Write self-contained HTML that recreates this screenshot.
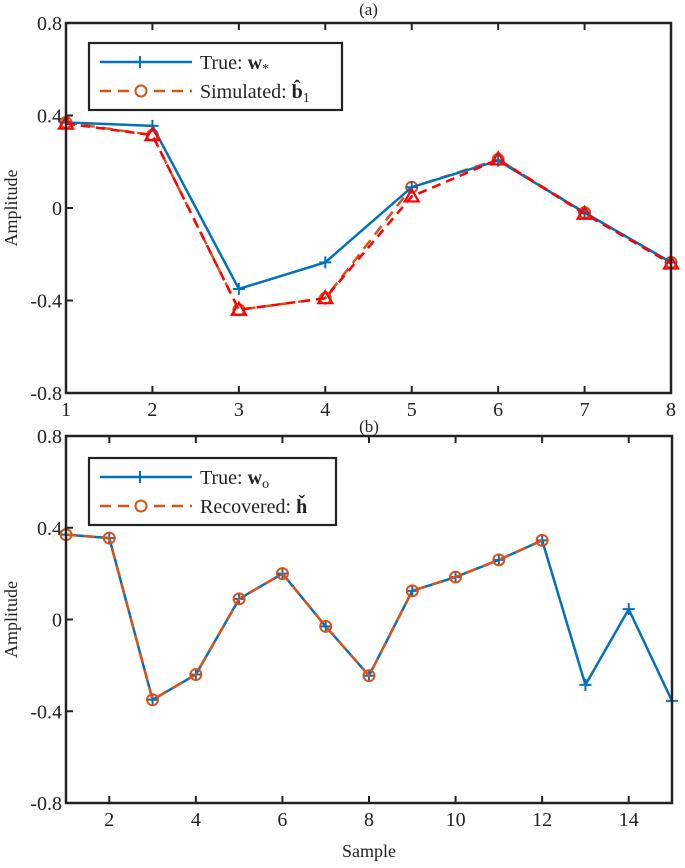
<!DOCTYPE html>
<html><head><meta charset="utf-8"><style>
body{margin:0;background:#fff;}
svg text{font-family:"Liberation Serif",serif;fill:#222;}
</style></head><body>
<svg id="fig" width="685" height="863" xmlns="http://www.w3.org/2000/svg"></svg>
<script>
const topX = [1,2,3,4,5,6,7,8];
const topTrue = [0.37,0.355,-0.35,-0.235,0.09,0.205,-0.02,-0.235];
const topSimOrange = [0.37,0.315,-0.44,-0.39,0.09,0.21,-0.02,-0.235];
const topSimRed = [0.365,0.315,-0.44,-0.39,0.05,0.21,-0.025,-0.24];
const topXTicks = [1,2,3,4,5,6,7,8];
const yTicks = [0.8,0.4,0,-0.4,-0.8];
const yTickLabels = ["0.8","0.4","0","-0.4","-0.8"];
const botX = [1,2,3,4,5,6,7,8,9,10,11,12,13,14,15];
const botTrue = [0.37,0.355,-0.35,-0.24,0.09,0.2,-0.03,-0.245,0.125,0.185,0.26,0.345,-0.285,0.045,-0.355];
const botRecX = [1,2,3,4,5,6,7,8,9,10,11,12];
const botRec = [0.37,0.355,-0.35,-0.24,0.09,0.2,-0.03,-0.245,0.125,0.185,0.26,0.345];
const botXTicks = [2,4,6,8,10,12,14];

const NS="http://www.w3.org/2000/svg";
const svg=document.getElementById('fig');
function mk(tag,attrs,parent){const e=document.createElementNS(NS,tag);for(const k in attrs)e.setAttribute(k,attrs[k]);(parent||svg).appendChild(e);return e;}
const BLUE="#0072BD",ORANGE="#D95319",RED="#FF0000";

function panel(name,L,R,T,B,xmin,xmax,xticks,title,titleY){
  const g=mk('g',{});
  
  
  const sx=v=>L+(v-xmin)/(xmax-xmin)*(R-L);
  const sy=v=>T+(0.8-v)/1.6*(B-T);
  for(let i=0;i<yTicks.length;i++){
    const y=sy(yTicks[i]);
    const t=mk('line',{x1:L,x2:L+7,y1:y,y2:y,stroke:'#222','stroke-width':2},g);
    
    
    const tx=mk('text',{x:L-4,y:y+7,'text-anchor':'end','font-size':20},g);
    tx.textContent=yTickLabels[i];
    
    
  }
  for(const v of xticks){
    const x=sx(v);
    const t1=mk('line',{x1:x,x2:x,y1:B,y2:B-7,stroke:'#222','stroke-width':2},g);
    
    
    const t2=mk('line',{x1:x,x2:x,y1:T,y2:T+7,stroke:'#222','stroke-width':2},g);
    
    
    const tx=mk('text',{x:x,y:B+23,'text-anchor':'middle','font-size':20},g);
    tx.textContent=String(v);
    
    
  }
  const ttl=mk('text',{x:(L+R)/2,y:titleY,'text-anchor':'middle','font-size':17},g);
  ttl.textContent=title;
  
  
  const yl=mk('text',{x:0,y:0,'text-anchor':'middle','font-size':18,transform:`translate(17,${(T+B)/2}) rotate(-90)`},g);
  yl.textContent='Amplitude';
  
  
  return {g,sx,sy,frame:()=>{const f=mk('rect',{x:L,y:T,width:R-L,height:B-T,fill:'none',stroke:'#222','stroke-width':2.5},g);}};
}

function series(p,xs,ys,color,dash,marker,name){
  const pts=xs.map((x,i)=>p.sx(x)+','+p.sy(ys[i])).join(' ');
  const pl=mk('polyline',{points:pts,fill:'none',stroke:color,'stroke-width':2.5,'stroke-dasharray':dash||'none'},p.g);
  
  
  xs.forEach((x,i)=>{
    const cx=p.sx(x),cy=p.sy(ys[i]);
    let m;
    if(marker==='plus') m=mk('path',{d:`M${cx-6},${cy}H${cx+6}M${cx},${cy-6}V${cy+6}`,stroke:color,'stroke-width':2,fill:'none'},p.g);
    else if(marker==='circle') m=mk('circle',{cx,cy,r:5.5,stroke:color,'stroke-width':2,fill:'none'},p.g);
    else m=mk('path',{d:`M${cx},${cy-7}L${cx+7},${cy+5}L${cx-7},${cy+5}Z`,stroke:color,'stroke-width':2.2,fill:'none'},p.g);
    
    
  });
}

function legend(p,x,y,w,h,l1,l2){
  const g=mk('g',{},p.g);
  
  
  mk('rect',{x,y,width:w,height:h,fill:'#fff',stroke:'#222','stroke-width':2.2},g);
  const y1=y+19,y2=y+48;
  mk('line',{x1:x+11,x2:x+103,y1:y1,y2:y1,stroke:BLUE,'stroke-width':2.5},g);
  mk('path',{d:`M${x+51},${y1-6}V${y1+6}M${x+45},${y1}H${x+57}`,stroke:BLUE,'stroke-width':2},g);
  mk('line',{x1:x+11,x2:x+103,y1:y2,y2:y2,stroke:ORANGE,'stroke-width':2.5,'stroke-dasharray':'11,7'},g);
  mk('circle',{cx:x+52,cy:y2,r:5.5,stroke:ORANGE,'stroke-width':2,fill:'#fff'},g);
  const e1=mk('text',{x:x+111,y:y1+7,'font-size':20},g);e1.innerHTML=l1;
  
  
  const e2=mk('text',{x:x+111,y:y2+7,'font-size':20},g);e2.innerHTML=l2;
  
  
}

// top panel
const pa=panel('panel-a',66,671,23,393,1,8,topXTicks,'(a)',15);
series(pa,topX,topSimOrange,ORANGE,'11,7','circle','simulated-b1');
series(pa,topX,topTrue,BLUE,null,'plus','true-w');
series(pa,topX,topSimRed,RED,'9,6','tri','simulated-red');
pa.frame();
legend(pa,89,43,253,67,'True:  <tspan font-weight="bold">w</tspan><tspan font-size="14" dy="4">*</tspan>','Simulated:  <tspan font-weight="bold">b̂</tspan><tspan font-size="14" dy="4">1</tspan>');

// bottom panel
const pb=panel('panel-b',66,672,436,803,1,15,botXTicks,'(b)',432);
series(pb,botX,botTrue,BLUE,null,'plus','true-wo');
series(pb,botRecX,botRec,ORANGE,'11,7','circle','recovered-h');
pb.frame();
legend(pb,89,458,247,67,'True:  <tspan font-weight="bold">w</tspan><tspan font-size="14" dy="4">o</tspan>','Recovered:  <tspan font-weight="bold">ȟ</tspan>');
const xl=mk('text',{x:369,y:857,'text-anchor':'middle','font-size':18});
xl.textContent='Sample';


</script>
</body></html>
